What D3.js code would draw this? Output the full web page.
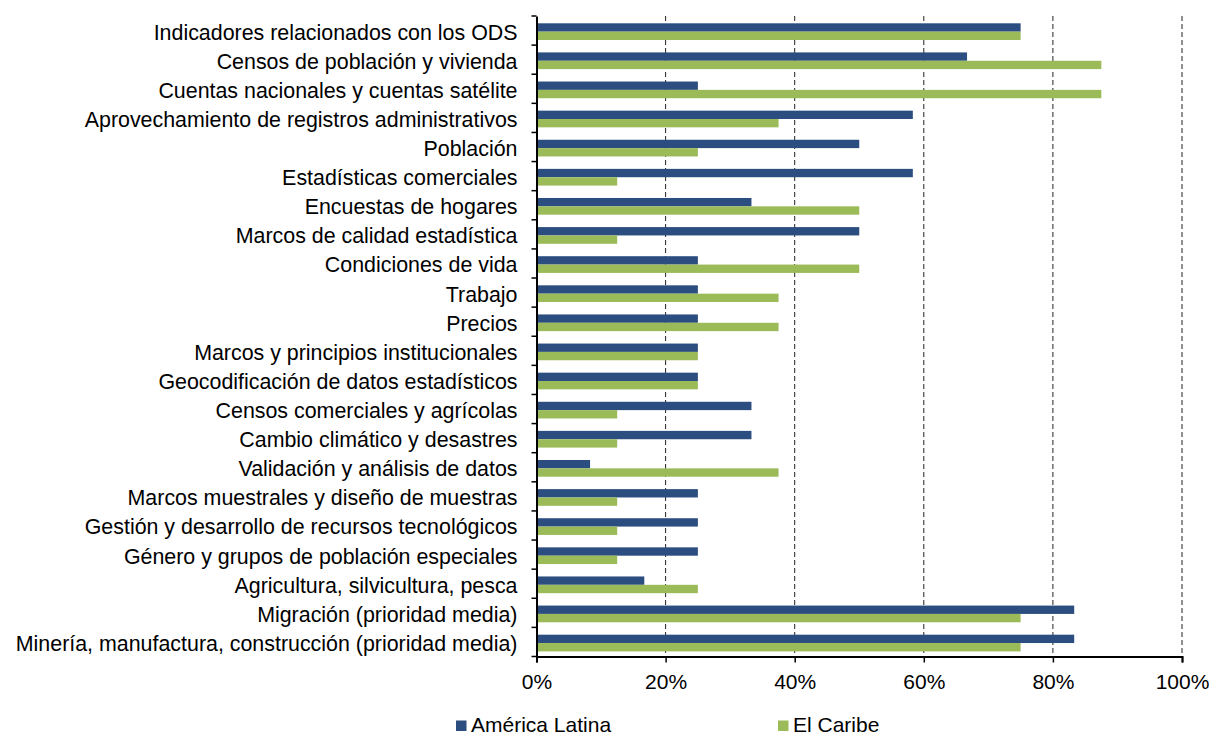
<!DOCTYPE html>
<html>
<head>
<meta charset="utf-8">
<script src="https://cdn.jsdelivr.net/npm/d3@7"></script>
<style>
  body { margin: 0; background: #fff; }
  text { font-family: "Liberation Sans", Arial, sans-serif; fill: #000; }
</style>
</head>
<body>
<div id="chart"></div>
<script>
var categories = [
  "Indicadores relacionados con los ODS",
  "Censos de población y vivienda",
  "Cuentas nacionales y cuentas satélite",
  "Aprovechamiento de registros administrativos",
  "Población",
  "Estadísticas comerciales",
  "Encuestas de hogares",
  "Marcos de calidad estadística",
  "Condiciones de vida",
  "Trabajo",
  "Precios",
  "Marcos y principios institucionales",
  "Geocodificación de datos estadísticos",
  "Censos comerciales y agrícolas",
  "Cambio climático y desastres ",
  "Validación y análisis de datos",
  "Marcos muestrales y diseño de muestras",
  "Gestión y desarrollo de recursos tecnológicos",
  "Género y grupos de población especiales",
  "Agricultura, silvicultura, pesca",
  "Migración (prioridad media)",
  "Minería, manufactura, construcción (prioridad media)"
];
var americaLatina = [75, 66.7, 25, 58.3, 50, 58.3, 33.3, 50, 25, 25, 25, 25, 25, 33.3, 33.3, 8.3, 25, 25, 25, 16.7, 83.3, 83.3];
var elCaribe      = [75, 87.5, 87.5, 37.5, 25, 12.5, 50, 12.5, 50, 37.5, 37.5, 25, 25, 12.5, 12.5, 37.5, 12.5, 12.5, 12.5, 25, 75, 75];
var seriesNames = ["América Latina", "El Caribe"];
var xTicks = [0, 20, 40, 60, 80, 100];

var chartConfig = {};
chartConfig.width     = 1209;
chartConfig.height    = 733;
chartConfig.left      = 536.5;
chartConfig.right     = 1182;
chartConfig.ptop      = 16;
chartConfig.pbottom   = 656.5;
chartConfig.font      = 21;
chartConfig.labelFont = 21.4;
var colors = ["#2c4d7f", "#9bbb59"];

var svg = d3.select("#chart")
  .append("svg")
  .attr("width", chartConfig.width)
  .attr("height", chartConfig.height);

var x = d3.scaleLinear().domain([0, 100]).range([chartConfig.left, chartConfig.right]);
var y = d3.scaleBand().domain(categories).range([chartConfig.ptop, chartConfig.pbottom]);
var sub = d3.scaleBand().domain(seriesNames).range([7.3, 24]);

// Dashed gridlines
svg.append("g")
  .selectAll("line")
  .data(xTicks.slice(1))
  .enter()
  .append("line")
  .attr("x1", function(d) { return x(d); })
  .attr("x2", function(d) { return x(d); })
  .attr("y1", chartConfig.ptop)
  .attr("y2", chartConfig.pbottom)
  .style("stroke", "#222")
  .style("stroke-width", "1px")
  .style("stroke-dasharray", "5,3");

// Bars
var rows = categories.map(function(c, i) { return { cat: c, values: [americaLatina[i], elCaribe[i]] }; });
var groups = svg.append("g")
  .selectAll("g")
  .data(rows)
  .enter()
  .append("g")
  .attr("transform", function(d) { return "translate(0," + y(d.cat) + ")"; });

groups.selectAll("rect")
  .data(function(d) { return d.values.map(function(v, j) { return { name: seriesNames[j], value: v, j: j }; }); })
  .enter()
  .append("rect")
  .attr("x", x(0))
  .attr("y", function(d) { return sub(d.name); })
  .attr("width", function(d) { return x(d.value) - x(0); })
  .attr("height", sub.bandwidth())
  .style("fill", function(d) { return colors[d.j]; });

// Y axis
var yAxis = svg.append("g")
  .attr("transform", "translate(" + chartConfig.left + ",0)")
  .call(d3.axisLeft(y).tickSize(0).tickPadding(19));
yAxis.select(".domain").style("stroke", "#000").style("stroke-width", "2px");
yAxis.selectAll("text").attr("font-size", chartConfig.labelFont).attr("dy", "0.42em");
yAxis.selectAll(".bnd")
  .data(d3.range(categories.length + 1))
  .enter()
  .append("line")
  .attr("class", "bnd")
  .attr("x1", -5)
  .attr("x2", 0)
  .attr("y1", function(i) { return chartConfig.ptop + i * y.step(); })
  .attr("y2", function(i) { return chartConfig.ptop + i * y.step(); })
  .style("stroke", "#000")
  .style("stroke-width", "1.5px");

// X axis
var xAxis = svg.append("g")
  .attr("transform", "translate(0," + chartConfig.pbottom + ")")
  .call(d3.axisBottom(x).tickValues(xTicks).tickSize(6).tickPadding(12)
    .tickFormat(function(d) { return d + "%"; }));
xAxis.select(".domain").style("stroke", "#000").style("stroke-width", "2px");
xAxis.selectAll("line").style("stroke", "#000").style("stroke-width", "1.5px");
xAxis.selectAll("text").attr("font-size", chartConfig.font);

// Legend
var legendX = [456, 778];
var legend = svg.append("g")
  .selectAll("g")
  .data(seriesNames)
  .enter()
  .append("g")
  .attr("transform", function(d, i) { return "translate(" + legendX[i] + ",720.5)"; });
legend.append("rect")
  .attr("width", 10.5)
  .attr("height", 10.5)
  .style("fill", function(d, i) { return colors[i]; });
legend.append("text")
  .attr("x", 15)
  .attr("y", 4)
  .attr("dy", "0.35em")
  .attr("font-size", chartConfig.font)
  .text(function(d) { return d; });
</script>
</body>
</html>
